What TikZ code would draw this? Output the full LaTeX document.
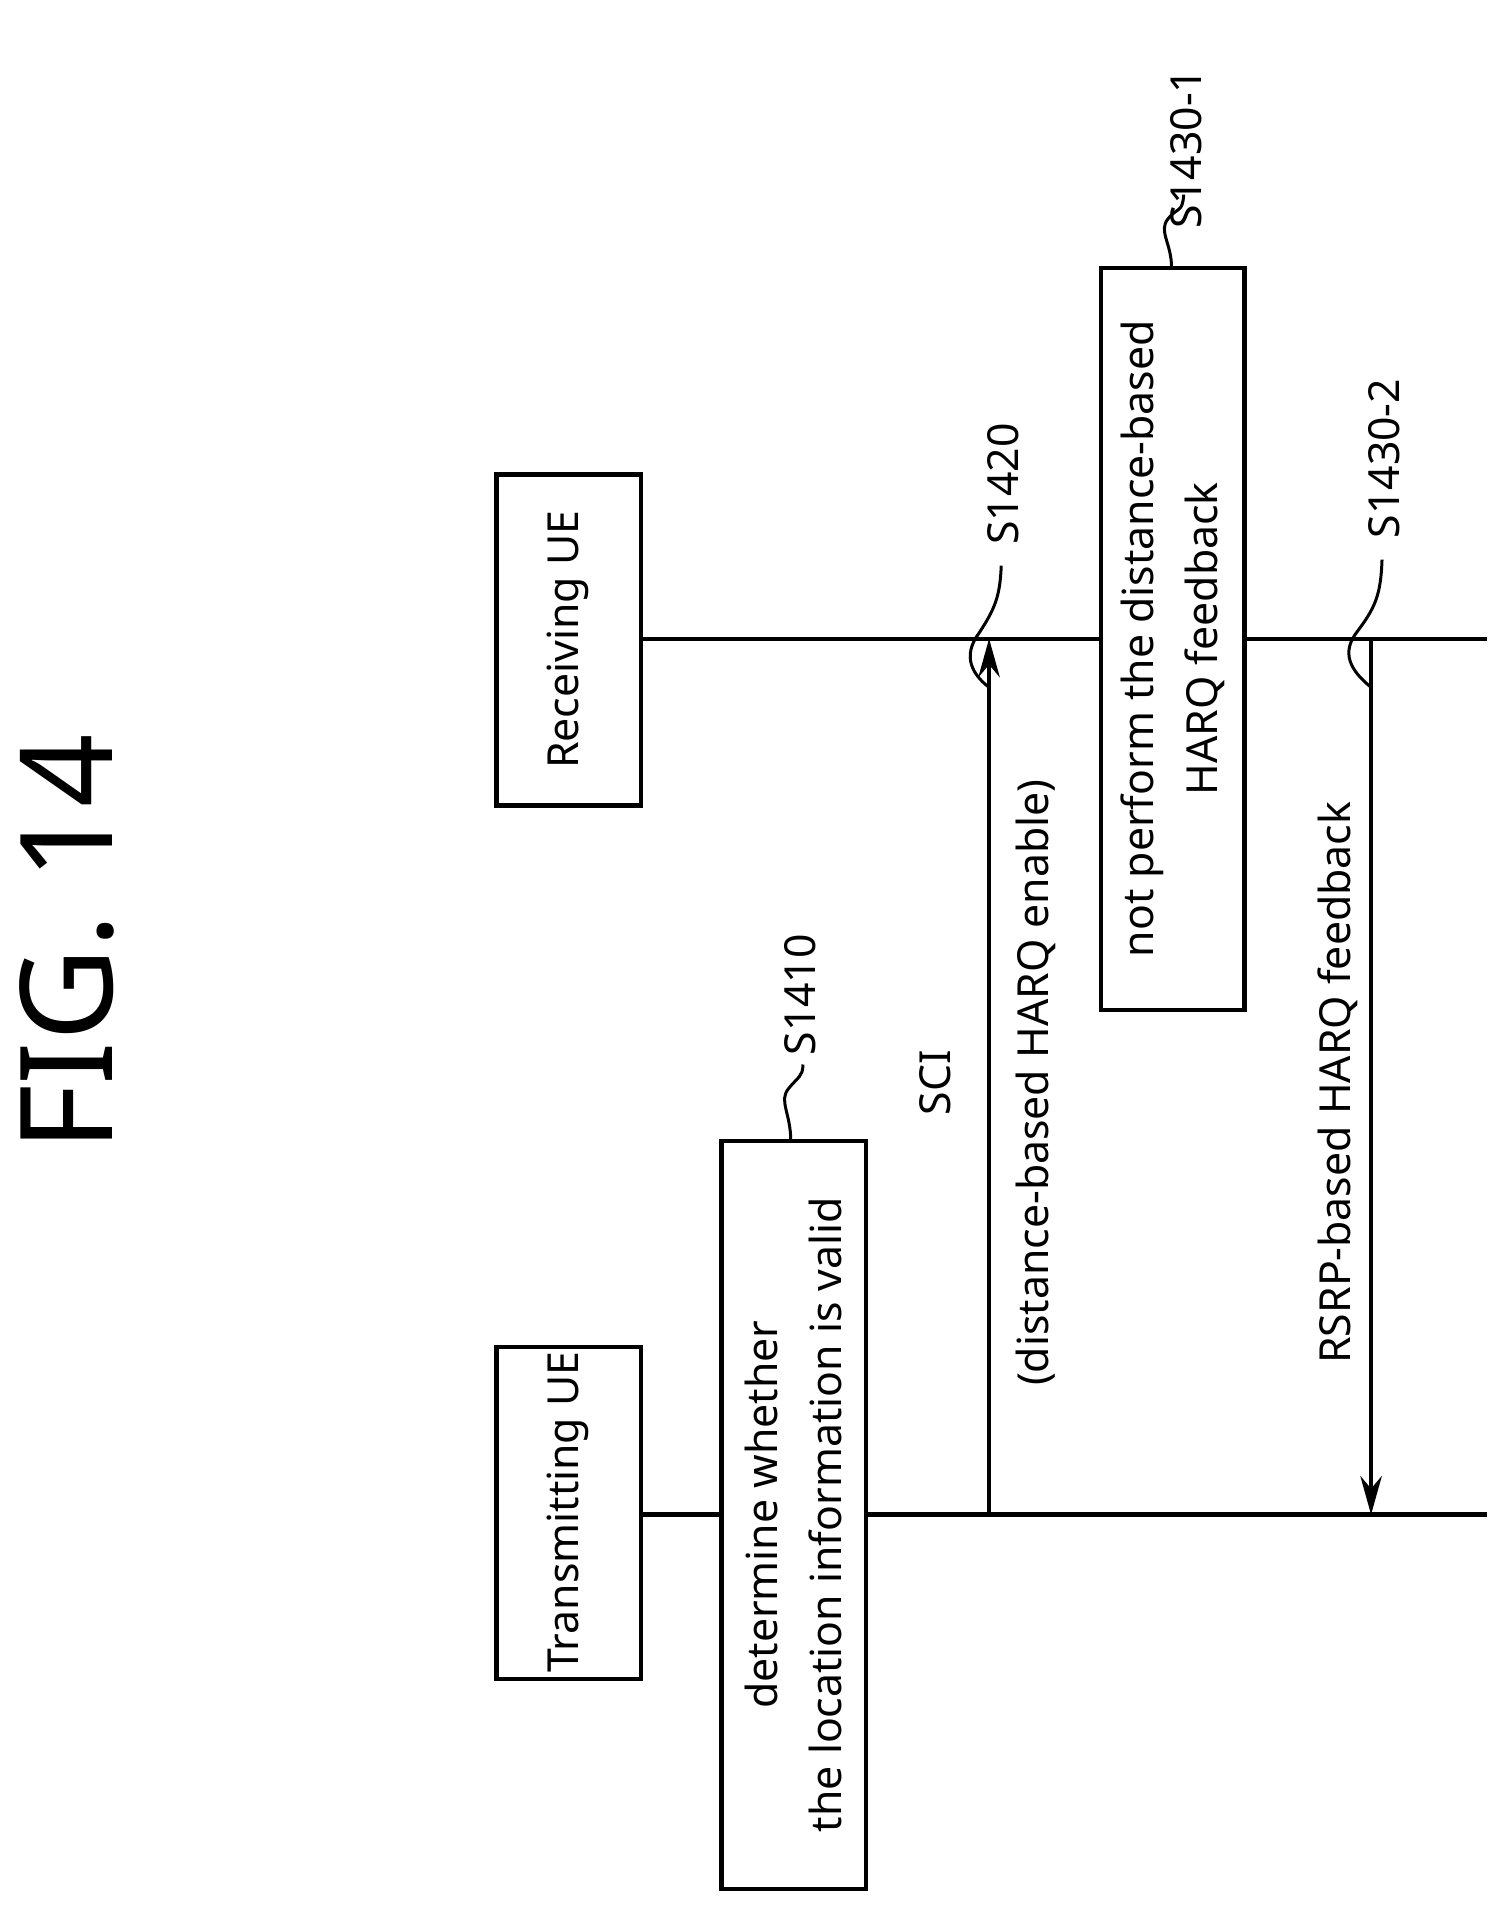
\documentclass[tikz,border=0pt]{standalone}
\usepackage{fontspec}
\setmainfont{Noto Sans}
\usetikzlibrary{arrows.meta}
\begin{document}
\begin{tikzpicture}[x=0.01cm,y=-0.01cm,
  box/.style={draw,line width=1pt,fill=white,inner sep=0pt},
  txt/.style={rotate=90,font=\fontsize{10}{15}\selectfont,align=center},
  lab/.style={rotate=90,font=\fontsize{10}{12}\selectfont,anchor=west},
  ln/.style={line width=1pt}]
\useasboundingbox (0,0) rectangle (1240,1570);
\node[rotate=90,font=\fontsize{30}{30}\selectfont] (fig) at (55,775) {FIG. 14};
% lifelines
\coordinate (t0) at (527,1245); \coordinate (t1) at (1222,1245);
\coordinate (r0) at (527,525); \coordinate (r1) at (1222,525);
\draw[ln] (t0) -- (t1);
\draw[ln] (r0) -- (r1);
\draw[box] (408,1107) rectangle (527,1380);
\node[txt] (tue) at (467,1243) {Transmitting UE};
\draw[box] (408,390) rectangle (527,662);
\node[txt] (rue) at (467,526) {Receiving UE};
% S1410
\draw[box] (593,938) rectangle (712,1553);
\node[txt] (b1) at (652,1245) {determine whether\\the location information is valid};
\coordinate (s1a) at (650,938);
\node[lab] (l1) at (658,880) {S1410};
\draw[line width=0.7pt] (s1a) .. controls (650,915) and (640,905) .. (648,895) .. controls (656,885) and (660,885) .. (660,875);
% SCI arrow
\coordinate (a1) at (813,1245); \coordinate (a2) at (813,525);
\draw[ln,-{Stealth[length=9pt,width=5pt]}] (a1) -- (a2);
\node[txt] (sci) at (812,890) {SCI\\[8pt](distance-based HARQ enable)};
\node[lab] (l2) at (825,460) {S1420};
\draw[line width=0.7pt] (813,565) .. controls (800,555) and (790,540) .. (805,520) .. controls (818,500) and (822,490) .. (823,465);
% S1430-1
\draw[box] (905,220) rectangle (1023,830);
\node[txt] (b2) at (964,525) {not perform the distance-based\\HARQ feedback};
\node[lab] (l3) at (975,200) {S1430-1};
\draw[line width=0.7pt] (963,220) .. controls (963,200) and (952,190) .. (960,180) .. controls (968,170) and (972,175) .. (973,160);
% RSRP arrow
\coordinate (a3) at (1127,525); \coordinate (a4) at (1127,1245);
\draw[ln,-{Stealth[length=9pt,width=5pt]}] (a3) -- (a4);
\node[txt] (rsrp) at (1100,890) {RSRP-based HARQ feedback};
\node[lab] (l4) at (1138,455) {S1430-2};
\draw[line width=0.7pt] (1127,565) .. controls (1115,555) and (1100,540) .. (1115,520) .. controls (1130,500) and (1135,490) .. (1136,460);
\end{tikzpicture}
\end{document}
